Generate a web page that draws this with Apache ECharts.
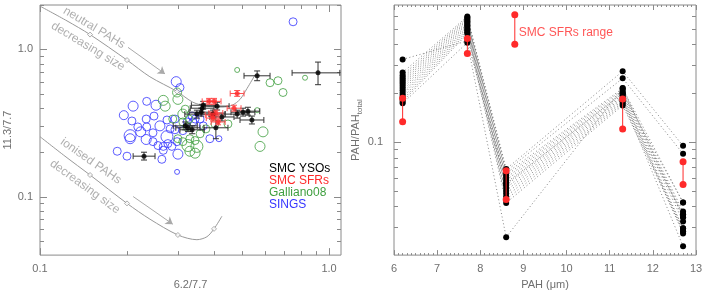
<!DOCTYPE html>
<html><head><meta charset="utf-8">
<script src="https://cdn.jsdelivr.net/npm/echarts@6/dist/echarts.min.js"></script>
<style>html,body{margin:0;padding:0;background:#fff}#c{width:709px;height:295px}</style>
</head><body><div id="c"></div>
<script>
// ================= LEFT PANEL DATA (6.2/7.7 vs 11.3/7.7) =================
const singsX = [0.195,0.210,0.234,0.252,0.208,0.233,0.205,0.223,0.233,0.246,0.260,0.275,0.282,0.293,0.246,0.256,0.267,0.277,0.275,0.286,0.298,0.267,0.185,0.200,0.300,0.264,0.298,0.296,0.305,0.751,0.248,0.234,0.218,0.387,0.416,0.205,0.323,0.338,0.336,0.358,0.367,0.312,0.293,0.344];
const singsY = [0.357,0.411,0.443,0.417,0.326,0.336,0.259,0.275,0.244,0.271,0.302,0.331,0.288,0.284,0.236,0.222,0.219,0.229,0.255,0.219,0.236,0.206,0.203,0.188,0.194,0.179,0.147,0.603,0.550,1.538,0.352,0.297,0.297,0.247,0.247,0.247,0.321,0.321,0.352,0.336,0.302,0.280,0.336,0.336];
const singsRadius = [4.5,5,4,5,4,4,6,5,5,4,5,4,4,4,4,4,4,4,6,4,4,4,4,4,5,4,2.5,5,4,4,4,4,4,4,3,5,4,4,4,4,4,4,4,4];

const gallX = [0.267,0.271,0.298,0.300,0.312,0.328,0.312,0.300,0.312,0.330,0.344,0.325,0.349,0.344,0.330,0.481,0.625,0.666,0.693,0.826,0.591,0.577,0.564,0.288,0.323,0.358,0.375,0.403,0.447,0.318];
const gallY = [0.450,0.411,0.509,0.457,0.363,0.336,0.321,0.247,0.236,0.247,0.240,0.222,0.219,0.197,0.203,0.724,0.593,0.612,0.509,0.641,0.275,0.219,0.386,0.336,0.297,0.267,0.288,0.311,0.311,0.392];
const gallRadius = [5,5,4.5,5,5,4,4,4,4,4,4,6,6,5,5,2.5,4,4,4,2.5,5,5,2.5,4,4,4,4,4,4,4];

// SMC YSOs: value and error-bar limits
const ysoX   = [0.564,0.916,0.367,0.410,0.349,0.361,0.397,0.426,0.481,0.504,0.524,0.541,0.318,0.325,0.336,0.406,0.229,0.364];
const ysoY   = [0.661,0.692,0.417,0.411,0.363,0.374,0.363,0.347,0.363,0.374,0.380,0.331,0.302,0.293,0.284,0.293,0.188,0.398];
const ysoXlo = [0.508,0.745,0.334,0.373,0.317,0.328,0.361,0.387,0.437,0.458,0.476,0.492,0.289,0.295,0.305,0.369,0.210,0.331];
const ysoXhi = [0.625,1.090,0.404,0.451,0.384,0.397,0.437,0.469,0.529,0.554,0.576,0.595,0.350,0.358,0.370,0.447,0.250,0.400];
const ysoYlo = [0.612,0.575,0.392,0.387,0.341,0.352,0.341,0.326,0.341,0.352,0.357,0.311,0.284,0.276,0.267,0.247,0.177,0.374];
const ysoYhi = [0.713,0.819,0.443,0.437,0.386,0.398,0.386,0.369,0.386,0.398,0.404,0.352,0.321,0.311,0.302,0.352,0.200,0.423];

// SMC SFRs
const sfrX   = [0.385,0.400,0.481,0.469,0.406,0.397,0.413,0.394];
const sfrY   = [0.443,0.443,0.501,0.398,0.369,0.341,0.321,0.358];
const sfrXlo = [0.364,0.378,0.455,0.444,0.384,0.376,0.391,0.373];
const sfrXhi = [0.407,0.423,0.508,0.496,0.429,0.420,0.437,0.416];
const sfrYlo = [0.423,0.423,0.479,0.380,0.352,0.326,0.307,0.342];
const sfrYhi = [0.464,0.464,0.525,0.417,0.386,0.357,0.336,0.375];

// model tracks
const neutralX = [0.100,0.124,0.149,0.200,0.240,0.298,0.338,0.378,0.426,0.462,0.492,0.520,0.555];
const neutralY = [1.965,1.560,1.259,0.845,0.651,0.517,0.437,0.411,0.405,0.417,0.457,0.541,0.671];
const neutralMarkX = [0.149,0.200,0.298];
const neutralMarkY = [1.259,0.845,0.517];
const ionX = [0.100,0.122,0.149,0.200,0.240,0.300,0.349,0.378,0.400,0.426];
const ionY = [0.255,0.188,0.140,0.0898,0.0702,0.0548,0.0509,0.0533,0.0603,0.0735];
const ionMarkX = [0.149,0.200,0.300,0.400];
const ionMarkY = [0.140,0.0898,0.0548,0.0603];
const neutralArrowX = [0.2016,0.2707], neutralArrowY = [1.031,0.681];
const ionArrowX = [0.210,0.288], ionArrowY = [0.100,0.0649];

// axis ticks (left)
const leftXMajor = [0.1,1.0];
const leftXMinor = [0.2,0.3,0.4,0.5,0.6,0.7,0.8,0.9];
const leftYMajor = [0.1,1.0];
const leftYMinor = [0.05,0.06,0.07,0.08,0.09,0.2,0.3,0.4,0.5,0.6,0.7,0.8,0.9,2.0];

// ================= RIGHT PANEL DATA (PAH / PAH_total) =================
const pahBands = [6.2, 7.7, 8.6, 11.3, 12.7];
const f62  = [0.323,0.268,0.258,0.250,0.243,0.236,0.229,0.222,0.215,0.208,0.201,0.195,0.188,0.182,0.177,0.173];
const f77  = [0.420,0.595,0.585,0.575,0.565,0.555,0.545,0.535,0.525,0.515,0.505,0.495,0.485,0.475,0.465,0.410];
const f86  = [0.055,0.068,0.066,0.064,0.062,0.060,0.058,0.056,0.054,0.052,0.050,0.048,0.046,0.044,0.042,0.0258];
const f113 = [0.200,0.273,0.247,0.214,0.210,0.205,0.200,0.196,0.192,0.188,0.184,0.180,0.176,0.172,0.168,0.215];
const f127 = [0.0423,0.0945,0.0844,0.0423,0.0372,0.0357,0.0342,0.0323,0.0293,0.0281,0.0272,0.0227,0.0357,0.0293,0.0281,0.0342];
const sfrRangeLo = [0.133,0.351,0.0441,0.120,0.0545];
const sfrRangeHi = [0.186,0.435,0.0664,0.184,0.0754];
const annotX = 8.8, annotRange = [0.40, 0.61], annotLabelY = 0.47;

const rightYMajor = [0.1];
const rightYMinor = [0.03,0.04,0.05,0.06,0.07,0.08,0.09,0.2,0.3,0.4,0.5,0.6];

// ================= BUILD =================
const AX = '#8a8a8a', TXT = '#6f6f6f';
const BLUE = '#3535ff', GREEN = '#3f9f3f', RED = '#ff2a2a';
const FONT = 'Liberation Sans, DejaVu Sans, sans-serif';

function fmtDecade(v){
  const l = Math.log10(v);
  return Math.abs(l - Math.round(l)) < 1e-6 ? Number(v).toFixed(1) : '';
}
function xTicks(gi, vals, yRef, len){
  return {type:'custom', xAxisIndex:gi, yAxisIndex:gi, silent:true, z:1,
    data: vals.map(v=>[v,yRef]),
    renderItem:(p,api)=>{const cs=p.coordSys;const x=Math.round(api.coord([api.value(0),api.value(1)])[0])+0.5;
      const st={stroke:AX,lineWidth:1};const b=cs.y+cs.height;
      return {type:'group',children:[{type:'line',shape:{x1:x,y1:b,x2:x,y2:b-len},style:st},{type:'line',shape:{x1:x,y1:cs.y,x2:x,y2:cs.y+len},style:st}]};}};
}
function yTicks(gi, vals, xRef, len){
  return {type:'custom', xAxisIndex:gi, yAxisIndex:gi, silent:true, z:1,
    data: vals.map(v=>[xRef,v]),
    renderItem:(p,api)=>{const cs=p.coordSys;const y=Math.round(api.coord([api.value(0),api.value(1)])[1])+0.5;
      const st={stroke:AX,lineWidth:1};const r=cs.x+cs.width;
      return {type:'group',children:[{type:'line',shape:{x1:cs.x,y1:y,x2:cs.x+len,y2:y},style:st},{type:'line',shape:{x1:r,y1:y,x2:r-len,y2:y},style:st}]};}};
}
function errBars(name, X, Y, XL, XH, YL, YH, color){
  return {type:'custom', name:name, xAxisIndex:0, yAxisIndex:0, silent:true, z:4,
    data: X.map((x,i)=>[x,Y[i],XL[i],XH[i],YL[i],YH[i]]),
    renderItem:(p,api)=>{
      const c=api.coord([api.value(0),api.value(1)]);
      const xl=api.coord([api.value(2),api.value(1)])[0], xh=api.coord([api.value(3),api.value(1)])[0];
      const yl=api.coord([api.value(0),api.value(4)])[1], yh=api.coord([api.value(0),api.value(5)])[1];
      const k=3, st={stroke:color,lineWidth:1};
      return {type:'group',children:[
        {type:'line',shape:{x1:xl,y1:c[1],x2:xh,y2:c[1]},style:st},
        {type:'line',shape:{x1:xl,y1:c[1]-k,x2:xl,y2:c[1]+k},style:st},
        {type:'line',shape:{x1:xh,y1:c[1]-k,x2:xh,y2:c[1]+k},style:st},
        {type:'line',shape:{x1:c[0],y1:yl,x2:c[0],y2:yh},style:st},
        {type:'line',shape:{x1:c[0]-k,y1:yl,x2:c[0]+k,y2:yl},style:st},
        {type:'line',shape:{x1:c[0]-k,y1:yh,x2:c[0]+k,y2:yh},style:st}]};}};
}
function textMark(x,y,text,rot){
  return {type:'scatter', xAxisIndex:0, yAxisIndex:0, silent:true, symbolSize:0, z:3,
    data:[[x,y]], label:{show:true, position:'inside', rotate:rot, formatter:text, color:'#9a9a9a', fontSize:12, fontFamily:FONT}};
}
function arrow(X,Y){
  return {type:'lines', coordinateSystem:'cartesian2d', xAxisIndex:0, yAxisIndex:0, z:3, silent:true,
    symbol:['none','arrow'], symbolSize:7,
    data:[{coords: X.map((x,i)=>[x,Y[i]])}], lineStyle:{color:'#aaa', width:1, opacity:1}};
}

const series = [];
// left panel
series.push({type:'scatter', name:'SINGS', xAxisIndex:0, yAxisIndex:0, z:2, symbol:'circle',
  data: singsX.map((x,i)=>[x,singsY[i]]), symbolSize:(v,p)=>2*singsRadius[p.dataIndex],
  itemStyle:{color:'rgba(0,0,0,0)', borderColor:BLUE, borderWidth:1}});
series.push({type:'scatter', name:'Galliano08', xAxisIndex:0, yAxisIndex:0, z:2, symbol:'circle',
  data: gallX.map((x,i)=>[x,gallY[i]]), symbolSize:(v,p)=>2*gallRadius[p.dataIndex],
  itemStyle:{color:'rgba(0,0,0,0)', borderColor:GREEN, borderWidth:1}});
series.push({type:'line', xAxisIndex:0, yAxisIndex:0, z:3, silent:true, symbol:'none',
  data: neutralX.map((x,i)=>[x,neutralY[i]]), smooth:0.3, lineStyle:{color:'#999', width:1}});
series.push({type:'line', xAxisIndex:0, yAxisIndex:0, z:3, silent:true, symbol:'none',
  data: ionX.map((x,i)=>[x,ionY[i]]), smooth:0.3, lineStyle:{color:'#999', width:1}});
series.push({type:'scatter', xAxisIndex:0, yAxisIndex:0, z:3, silent:true, symbol:'diamond', symbolSize:5,
  data: neutralMarkX.map((x,i)=>[x,neutralMarkY[i]]).concat(ionMarkX.map((x,i)=>[x,ionMarkY[i]])),
  itemStyle:{color:'#fff', borderColor:'#999', borderWidth:1}});
series.push(arrow(neutralArrowX, neutralArrowY));
series.push(arrow(ionArrowX, ionArrowY));
series.push(textMark(0.154,1.40,'neutral PAHs',-31));
series.push(textMark(0.1466,1.047,'decreasing size',-31));
series.push(textMark(0.150,0.174,'ionised PAHs',-35));
series.push(textMark(0.143,0.1166,'decreasing size',-36));
series.push(errBars('ysoErr', ysoX, ysoY, ysoXlo, ysoXhi, ysoYlo, ysoYhi, '#333'));
series.push(errBars('sfrErr', sfrX, sfrY, sfrXlo, sfrXhi, sfrYlo, sfrYhi, '#ff5050'));
series.push({type:'scatter', name:'SMC YSOs', xAxisIndex:0, yAxisIndex:0, z:5, symbol:'circle', symbolSize:5,
  data: ysoX.map((x,i)=>[x,ysoY[i]]), itemStyle:{color:'#000'}});
series.push({type:'scatter', name:'SMC SFRs', xAxisIndex:0, yAxisIndex:0, z:5, symbol:'circle', symbolSize:5,
  data: sfrX.map((x,i)=>[x,sfrY[i]]), itemStyle:{color:RED}});
series.push(xTicks(0, leftXMajor, 0.5, 7));
series.push(xTicks(0, leftXMinor, 0.5, 4));
series.push(yTicks(0, leftYMajor, 0.5, 7));
series.push(yTicks(0, leftYMinor, 0.5, 4));

// right panel
for (let s = 0; s < f62.length; s++) {
  const vals = [f62[s], f77[s], f86[s], f113[s], f127[s]];
  series.push({type:'line', xAxisIndex:1, yAxisIndex:1, z:3, silent:true, symbol:'circle', symbolSize:6, showAllSymbol:true,
    data: pahBands.map((b,i)=>[b, vals[i]]),
    lineStyle:{color:'#666', width:0.8, type:[1,2.5]}, itemStyle:{color:'#000'}});
}
for (let i = 0; i < pahBands.length; i++) {
  series.push({type:'line', xAxisIndex:1, yAxisIndex:1, z:5, silent:true, symbol:'circle', symbolSize:7,
    data: [[pahBands[i], sfrRangeLo[i]], [pahBands[i], sfrRangeHi[i]]],
    lineStyle:{color:RED, width:1}, itemStyle:{color:RED}});
}
series.push({type:'line', xAxisIndex:1, yAxisIndex:1, z:5, silent:true, symbol:'circle', symbolSize:7,
  data: annotRange.map(v=>[annotX, v]), lineStyle:{color:RED, width:1}, itemStyle:{color:RED}});
series.push({type:'scatter', xAxisIndex:1, yAxisIndex:1, z:5, silent:true, symbolSize:0,
  data:[[annotX, annotLabelY]], label:{show:true, position:'right', distance:4, formatter:'SMC SFRs range', color:RED, fontSize:12, fontFamily:FONT}});
series.push(yTicks(1, rightYMajor, 7, 7));
series.push(yTicks(1, rightYMinor, 7, 4));

const chart = echarts.init(document.getElementById('c'), null, {renderer:'canvas'});
const axisCommon = {axisLine:{show:false}, splitLine:{show:false},
  nameTextStyle:{color:TXT, fontSize:11, fontFamily:FONT}};
const ax = (o) => Object.assign({}, axisCommon, o);
chart.setOption({
  animation:false,
  backgroundColor:'#fff',
  textStyle:{fontFamily:FONT},
  legend:{left:263, top:158, orient:'vertical', selectedMode:false, icon:'rect', itemWidth:0, itemHeight:0, itemGap:0,
    textStyle:{fontSize:12, fontFamily:FONT, padding:[0,0,0,-5], lineHeight:12},
    data:[{name:'SMC YSOs', textStyle:{color:'#000'}},{name:'SMC SFRs', textStyle:{color:RED}},
          {name:'Galliano08', textStyle:{color:GREEN}},{name:'SINGS', textStyle:{color:BLUE}}]},
  grid:[{left:40, top:5, width:301, height:253, show:true, borderColor:AX, borderWidth:1, backgroundColor:'rgba(0,0,0,0)'},
        {left:394, top:5, width:302, height:253, show:true, borderColor:AX, borderWidth:1, backgroundColor:'rgba(0,0,0,0)'}],
  xAxis:[
    ax({gridIndex:0, type:'log', logBase:10, min:0.1, max:1.1, axisTick:{show:false},
      axisLabel:{formatter:fmtDecade, color:TXT, fontSize:11, margin:8, showMinLabel:true, showMaxLabel:true},
      name:'6.2/7.7', nameLocation:'middle', nameGap:21}),
    ax({gridIndex:1, type:'value', min:6, max:13, interval:1,
      axisTick:{show:true, inside:true, length:5, lineStyle:{color:AX}},
      minorTick:{show:true, splitNumber:10, length:2, lineStyle:{color:AX}},
      axisLabel:{color:TXT, fontSize:11, margin:8},
      name:'PAH (\u03bcm)', nameLocation:'middle', nameGap:20}),
    ax({gridIndex:1, type:'value', position:'top', min:6, max:13, interval:1,
      axisTick:{show:true, inside:true, length:5, lineStyle:{color:AX}},
      minorTick:{show:true, splitNumber:10, length:2, lineStyle:{color:AX}},
      axisLabel:{show:false}})
  ],
  yAxis:[
    ax({gridIndex:0, type:'log', logBase:10, min:0.04, max:2.0, axisTick:{show:false},
      axisLabel:{formatter:fmtDecade, color:TXT, fontSize:11, margin:7},
      name:'11.3/7.7', nameLocation:'middle', nameGap:25, nameRotate:90}),
    ax({gridIndex:1, type:'log', logBase:10, min:0.02, max:0.7, axisTick:{show:false},
      axisLabel:{formatter:fmtDecade, color:TXT, fontSize:11, margin:11},
      name:'{a|PAH/PAH}{b|total}', nameLocation:'middle', nameGap:22, nameRotate:90,
      nameTextStyle:{color:TXT, fontSize:11, fontFamily:FONT,
        rich:{a:{fontSize:11, color:TXT, fontFamily:FONT}, b:{fontSize:8, color:TXT, fontFamily:FONT, padding:[7,0,0,0]}}}})
  ],
  series: series
});
</script>
</body></html>
